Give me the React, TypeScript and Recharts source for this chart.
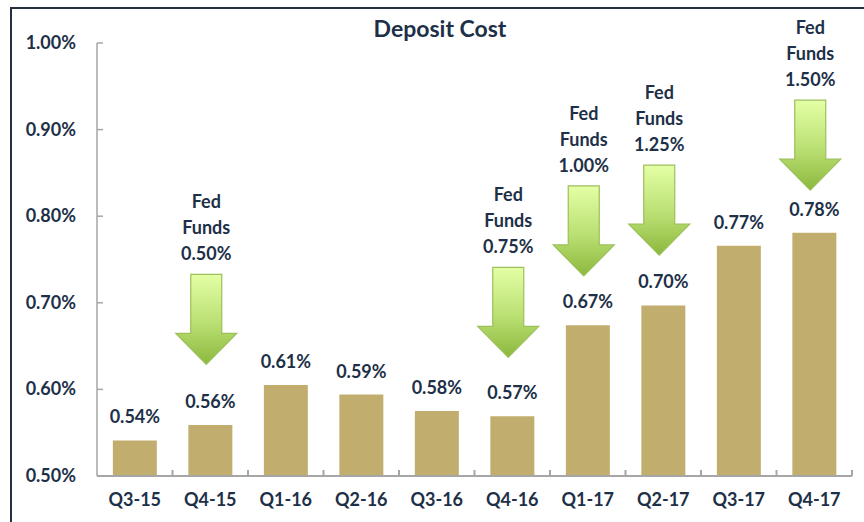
import React from "react";
import {
  BarChart,
  Bar,
  XAxis,
  YAxis,
  LabelList,
  ReferenceDot,
} from "recharts";

const quarters = ["Q3-15", "Q4-15", "Q1-16", "Q2-16", "Q3-16", "Q4-16", "Q1-17", "Q2-17", "Q3-17", "Q4-17"];
const depositCost = [0.541, 0.559, 0.605, 0.594, 0.575, 0.569, 0.674, 0.697, 0.766, 0.781];
const costLabels = ["0.54%", "0.56%", "0.61%", "0.59%", "0.58%", "0.57%", "0.67%", "0.70%", "0.77%", "0.78%"];
const yTicks = [0.5, 0.6, 0.7, 0.8, 0.9, 1.0];

// Fed funds annotations: quarter, rate text, where the arrow tip sits (y value)
const fedQuarters = ["Q4-15", "Q4-16", "Q1-17", "Q2-17", "Q4-17"];
const fedRates = ["0.50%", "0.75%", "1.00%", "1.25%", "1.50%"];
const fedArrowTip = [0.629, 0.637, 0.731, 0.755, 0.83];

const data = quarters.map((q, i) => ({ name: q, cost: depositCost[i], label: costLabels[i] }));

const W = 864;
const H = 522;
const M = { top: 43, right: 12, left: 17, bottom: 6 };
const Y_W = 80;
const X_H = 40;
const BAND = (W - M.left - M.right - Y_W) / quarters.length;

const FONT = "Lato, 'Open Sans', sans-serif";
const INK = "#1d3047";
const AXIS = "#a6a6a6";
const FS = 18;

const XTick = (props: any) => {
  const { x, y, payload } = props;
  const axisY = y - 8;
  return (
    <g>
      <line x1={x + BAND / 2} x2={x + BAND / 2} y1={axisY} y2={axisY - 6} stroke={AXIS} strokeWidth={2} />
      <text x={x} y={y + 22} textAnchor="middle" fill={INK} fontFamily={FONT} fontWeight={700} fontSize={FS}>
        {payload.value}
      </text>
    </g>
  );
};

const YTick = (props: any) => {
  const { x, y, payload } = props;
  const axisX = x + 21;
  return (
    <g>
      <line x1={axisX} x2={axisX + 6} y1={y} y2={y} stroke={AXIS} strokeWidth={1.5} />
      <text x={x} y={y + 6} textAnchor="end" fill={INK} fontFamily={FONT} fontWeight={700} fontSize={FS}>
        {payload.value.toFixed(2) + "%"}
      </text>
    </g>
  );
};

const FedArrow = (idx: number) => (props: any) => {
  const { cx, cy } = props;
  const x = cx - 4;
  const tip = cy;
  const top = tip - 90;
  const headY = tip - 31;
  const id = "fedgrad" + idx;
  const pts = [
    [x - 15.5, top],
    [x + 15.5, top],
    [x + 15.5, headY],
    [x + 30.5, headY],
    [x, tip],
    [x - 30.5, headY],
    [x - 15.5, headY],
  ]
    .map((p) => p.join(","))
    .join(" ");
  return (
    <g>
      <defs>
        <linearGradient id={id} x1="0" y1="0" x2="0" y2="1">
          <stop offset="0%" stopColor="#e4ffa6" />
          <stop offset="55%" stopColor="#b9df72" />
          <stop offset="100%" stopColor="#8cb83d" />
        </linearGradient>
      </defs>
      <polygon points={pts} fill={`url(#${id})`} stroke="#9cc05a" strokeWidth={1.2} />
      <text textAnchor="middle" fill={INK} fontFamily={FONT} fontWeight={700} fontSize={FS}>
        <tspan x={x} y={top - 66}>Fed</tspan>
        <tspan x={x} y={top - 40}>Funds</tspan>
        <tspan x={x} y={top - 14}>{fedRates[idx]}</tspan>
      </text>
    </g>
  );
};

export default function App() {
  return (
    <div style={{ position: "absolute", left: 0, top: 0, width: W, height: H, overflow: "hidden", background: "#fff" }}>
      <div
        style={{
          position: "absolute",
          left: 10,
          top: 7,
          width: W + 20,
          height: H + 20,
          border: "2px solid #22303f",
          boxSizing: "border-box",
        }}
      />
      <div
        style={{
          position: "absolute",
          left: 0,
          width: 880,
          top: 14,
          textAlign: "center",
          fontFamily: FONT,
          fontWeight: 700,
          fontSize: 23,
          lineHeight: "28px",
          color: INK,
        }}
      >
        Deposit Cost
      </div>
      <div style={{ position: "absolute", left: 0, top: 0 }}>
        <BarChart width={W} height={H} data={data} margin={M} barCategoryGap="21%">
          <XAxis
            dataKey="name"
            height={X_H}
            tickLine={false}
            tickSize={0}
            tickMargin={8}
            interval={0}
            tick={<XTick />}
            axisLine={{ stroke: AXIS, strokeWidth: 2 }}
          />
          <YAxis
            width={Y_W}
            domain={[0.5, 1.0]}
            ticks={yTicks}
            tickLine={false}
            tickSize={6}
            tickMargin={15}
            tick={<YTick />}
            axisLine={{ stroke: AXIS, strokeWidth: 1.5 }}
          />
          <Bar dataKey="cost" fill="#c1ae6f" isAnimationActive={false}>
            <LabelList
              dataKey="label"
              position="top"
              offset={17}
              fill={INK}
              fontFamily={FONT}
              fontWeight={700}
              fontSize={FS}
            />
          </Bar>
          {fedQuarters.map((q, i) => (
            <ReferenceDot
              key={q}
              x={q}
              y={fedArrowTip[i]}
              r={0}
              ifOverflow="visible"
              shape={FedArrow(i)}
            />
          ))}
        </BarChart>
      </div>
    </div>
  );
}
